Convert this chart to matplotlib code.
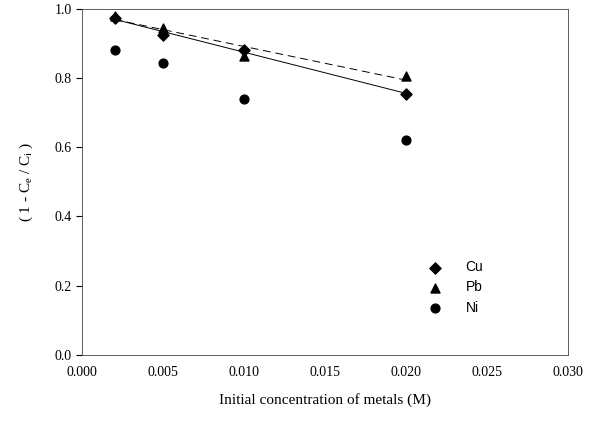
import matplotlib
matplotlib.use("Agg")
import matplotlib.pyplot as plt
import numpy as np

conc = [0.002, 0.005, 0.010, 0.020]
cu = [0.975, 0.925, 0.880, 0.755]
pb = [0.980, 0.945, 0.865, 0.805]
ni = [0.880, 0.845, 0.740, 0.620]

x_ticks = [0.000, 0.005, 0.010, 0.015, 0.020, 0.025, 0.030]
y_ticks = [0.0, 0.2, 0.4, 0.6, 0.8, 1.0]

plt.rcParams['font.family'] = ['Liberation Serif', 'DejaVu Serif']

fig = plt.figure(figsize=(5.95, 4.25), dpi=100)
ax = fig.add_axes([0.138, 0.165, 0.817, 0.814])

# linear trend lines for Cu and Pb
xs = np.array([conc[0], conc[-1]])
p_cu = np.polyfit(conc, cu, 1)
p_pb = np.polyfit(conc, pb, 1)
ax.plot(xs, np.polyval(p_cu, xs), color='black', lw=0.7)
ax.plot(xs, np.polyval(p_pb, xs), color='black', lw=0.7, ls=(0, (8, 5)))

ax.scatter(conc, cu, marker='D', s=32, color='black', label='Cu', zorder=3)
ax.scatter(conc, pb, marker='^', s=42, color='black', label='Pb', zorder=3)
ax.scatter(conc, ni, marker='o', s=40, color='black', label='Ni', zorder=3)

ax.set_xlim(0, 0.030)
ax.set_ylim(0, 1.0)
ax.set_xticks(x_ticks)
ax.set_xticklabels(['%.3f' % v for v in x_ticks])
ax.set_yticks(y_ticks)
ax.set_yticklabels(['%.1f' % v for v in y_ticks])
ax.tick_params(axis='x', length=0, labelsize=10, pad=8)
ax.tick_params(axis='y', length=4, labelsize=10, direction='out')
for s in ax.spines.values():
    s.set_linewidth(0.6)
    s.set_color('#444444')

ax.set_xlabel('Initial concentration of metals (M)', fontsize=11, labelpad=10)
ax.set_ylabel(r'( 1 - C$\mathregular{_e}$ / C$\mathregular{_i}$ )', fontsize=11, labelpad=14)

leg = ax.legend(loc='center left', bbox_to_anchor=(0.672, 0.195), frameon=False,
                prop={'family': 'Liberation Sans', 'size': 10}, handletextpad=1.2,
                labelspacing=0.45)

fig.savefig('out.png', dpi=100)
